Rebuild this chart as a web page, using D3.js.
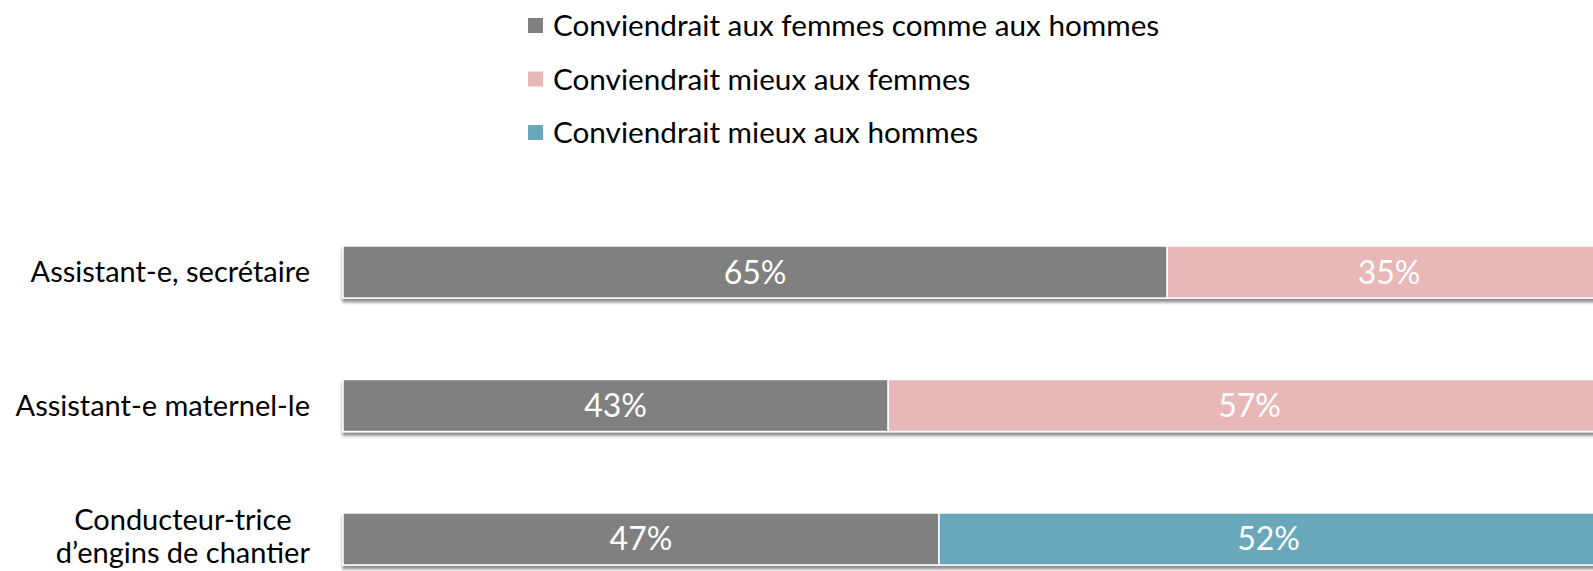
<!DOCTYPE html>
<html>
<head>
<meta charset="utf-8">
<script src="https://cdn.jsdelivr.net/npm/d3@7"></script>
<style>
  html, body { margin: 0; padding: 0; background: #fff; overflow: hidden; }
  svg { display: block; font-family: Lato, "Open Sans", sans-serif; }
</style>
</head>
<body>
<svg id="chart" width="1593" height="571"></svg>
<script>
// ---- data ----
const categories = [
  ["Assistant-e, secrétaire"],
  ["Assistant-e maternel-le"],
  ["Conducteur-trice", "d\u2019engins de chantier"]
];
const seriesNames = [
  "Conviendrait aux femmes comme aux hommes",
  "Conviendrait mieux aux femmes",
  "Conviendrait mieux aux hommes"
];
const seriesColors = ["#808080", "#E8B7B8", "#67A8BA"];
const valuesBoth   = [65, 43, 47];
const valuesWomen  = [35, 57, 0];
const valuesMen    = [0, 0, 52];

// ---- layout ----
const svg = d3.select("#chart");

const defs = svg.append("defs");
const f = defs.append("filter").attr("id", "shadow")
  .attr("x", "-2%").attr("y", "-20%").attr("width", "104%").attr("height", "150%");
f.append("feDropShadow").attr("dx", 0).attr("dy", 3.5).attr("stdDeviation", 1.8)
  .attr("flood-color", "#000").attr("flood-opacity", 0.45);

const x = d3.scaleLinear().domain([0, 100]).range([343, 1611]);
const y = d3.scaleBand().domain(d3.range(categories.length))
  .range([246, 565]).paddingInner(0.61).paddingOuter(0);

const seriesData = [valuesBoth, valuesWomen, valuesMen];
const rows = categories.map((c, i) => {
  let acc = 0;
  return seriesData.map((s, k) => {
    const d = { row: i, k, v: s[i], x0: acc, x1: acc + s[i] };
    acc += s[i];
    return d;
  }).filter(d => d.v > 0);
});

const g = svg.append("g");
rows.forEach((segs, i) => {
  const rg = g.append("g").attr("filter", "url(#shadow)");
  rg.selectAll("rect").data(segs).join("rect")
    .attr("x", d => x(d.x0))
    .attr("y", y(i))
    .attr("width", d => x(d.x1) - x(d.x0))
    .attr("height", y.bandwidth())
    .attr("fill", d => seriesColors[d.k])
    .attr("stroke", "#fff")
    .attr("stroke-width", 1.5);
});
rows.forEach((segs, i) => {
  g.append("g").selectAll("text").data(segs).join("text")
    .attr("x", d => (x(d.x0) + x(d.x1)) / 2)
    .attr("y", y(i) + y.bandwidth() / 2)
    .attr("dy", "0.36em")
    .attr("text-anchor", "middle")
    .attr("fill", "#fff")
    .attr("font-size", 32)
    .text(d => d.v + "%");
});

// category labels
const labG = svg.append("g");
categories.forEach((lines, i) => {
  const cy = y(i) + y.bandwidth() / 2 - (lines.length > 1 ? 3 : 0);
  const lh = 33.5;
  const t = labG.append("text")
    .attr("font-size", 29)
    .attr("fill", "#000");
  lines.forEach((ln, j) => {
    t.append("tspan")
      .attr("y", cy + (j - (lines.length - 1) / 2) * lh)
      .attr("dy", "0.36em")
      .text(ln);
  });
  const tsp = t.selectAll("tspan").nodes();
  const widths = tsp.map(n => n.getComputedTextLength());
  const maxW = d3.max(widths);
  const right = 310;
  tsp.forEach(n => {
    d3.select(n).attr("x", right - maxW / 2).attr("text-anchor", "middle");
  });
});

// legend
const leg = svg.append("g");
const legY = [25.5, 79, 132.5];
seriesNames.forEach((name, k) => {
  leg.append("rect").attr("x", 528).attr("y", legY[k] - 7.5)
    .attr("width", 15).attr("height", 15).attr("fill", seriesColors[k]);
  leg.append("text").attr("x", 553).attr("y", legY[k])
    .attr("dy", "0.36em").attr("font-size", 29.7).attr("fill", "#000")
    .text(name);
});
</script>
</body>
</html>
